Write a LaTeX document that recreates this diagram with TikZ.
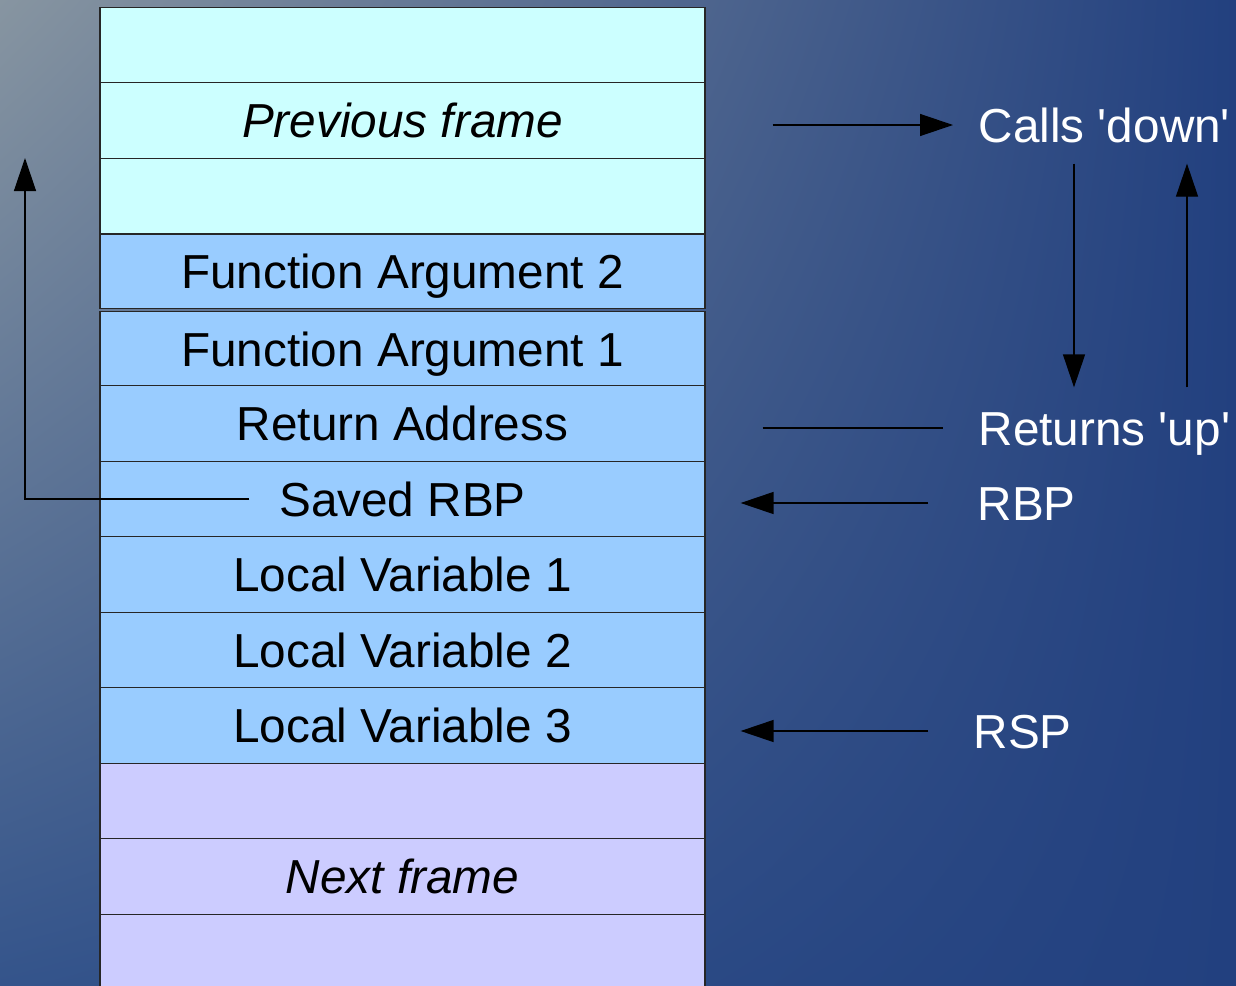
\documentclass[tikz,border=0pt]{standalone}
\usepackage{fontspec}
\setmainfont{Liberation Sans}
\usetikzlibrary{arrows.meta,calc,shadings}

\definecolor{oldcol}{HTML}{CCFFFF}
\definecolor{curcol}{HTML}{99CCFF}
\definecolor{nextcol}{HTML}{CCCCFF}
\definecolor{bgtl}{HTML}{8795A1}
\definecolor{bgtr}{HTML}{22407F}
\definecolor{bgbl}{HTML}{34548B}
\definecolor{bgbr}{HTML}{22407F}

\begin{document}
\begin{tikzpicture}[x=1pt, y=-1pt, line width=1.3pt,
    >={Triangle[length=33pt,width=22pt]},
    slot/.style={draw=black!85, line width=1.2pt, minimum width=605pt, minimum height=75.5pt,
      inner sep=0pt, text height=34pt, text depth=0pt, font=\fontsize{47.7}{57}\selectfont},
    oldslot/.style={slot, fill=oldcol},
    curslot/.style={slot, fill=curcol},
    nextslot/.style={slot, fill=nextcol},
    reg/.style={text=white, anchor=west, inner sep=0pt, text height=34pt, text depth=0pt,
      font=\fontsize{47.7}{57}\selectfont}]
  \useasboundingbox (0,0) rectangle (1236,985);
  \clip (0,0) rectangle (1236,985);
  \shade[upper left=bgtl, upper right=bgtr, lower left=bgbl, lower right=bgbr] (0,0) rectangle (1236,985);

  % the stack, top to bottom
  \node[oldslot] (prevtop) at (402.5,45.5) {};
  \node[oldslot] (prevframe) at (402.5,120.5) {\itshape Previous frame};
  \node[oldslot] (prevbot) at (402.5,196) {};
  \node[curslot, minimum height=74.5pt] (arg2) at (402.5,271.5) {Function Argument 2};
  \node[curslot, minimum height=74.5pt] (arg1) at (402.5,349) {Function Argument 1};
  \node[curslot] (retaddr) at (402.5,423.5) {Return Address};
  \node[curslot] (savedrbp) at (402.5,499) {Saved RBP};
  \node[curslot] (local1) at (402.5,574.5) {Local Variable 1};
  \node[curslot] (local2) at (402.5,650) {Local Variable 2};
  \node[curslot] (local3) at (402.5,725.5) {Local Variable 3};
  \node[nextslot] (nexttop) at (402.5,801) {};
  \node[nextslot] (nextframe) at (402.5,876.5) {\itshape Next frame};
  \node[nextslot] (nextbot) at (402.5,952) {};

  % labels on the right
  \node[reg] (calls) at (978,125) {Calls \textquotesingle down\textquotesingle};
  \node[reg] (returns) at (978,428) {Returns \textquotesingle up\textquotesingle};
  \node[reg] (rbp) at (977,503) {RBP};
  \node[reg] (rsp) at (973,731) {RSP};

  \coordinate (dnx) at (1074,0);
  \coordinate (upx) at (1187,0);
  \coordinate (oldrbp) at (25,158);

  \draw[->] ($(calls.west -| prevframe.east)+(67,0)$) -- ($(calls.west)+(-25,0)$);
  \draw[->] ($(calls.south -| dnx)+(0,21)$) -- ($(returns.north -| dnx)+(0,-23)$);
  \draw[->] ($(returns.north -| upx)+(0,-23)$) -- ($(calls.south -| upx)+(0,21)$);
  \draw ($(returns.west -| retaddr.east)+(57,0)$) -- ($(returns.west)+(-35,0)$);
  \draw[->] ($(rbp.west)+(-49,0)$) -- ($(rbp.west -| savedrbp.east)+(35,0)$);
  \draw[->] ($(rsp.west)+(-45,0)$) -- ($(rsp.west -| local3.east)+(35,0)$);
  \draw[->] ($(savedrbp.west)+(150,0)$) -| (oldrbp);
\end{tikzpicture}
\end{document}
